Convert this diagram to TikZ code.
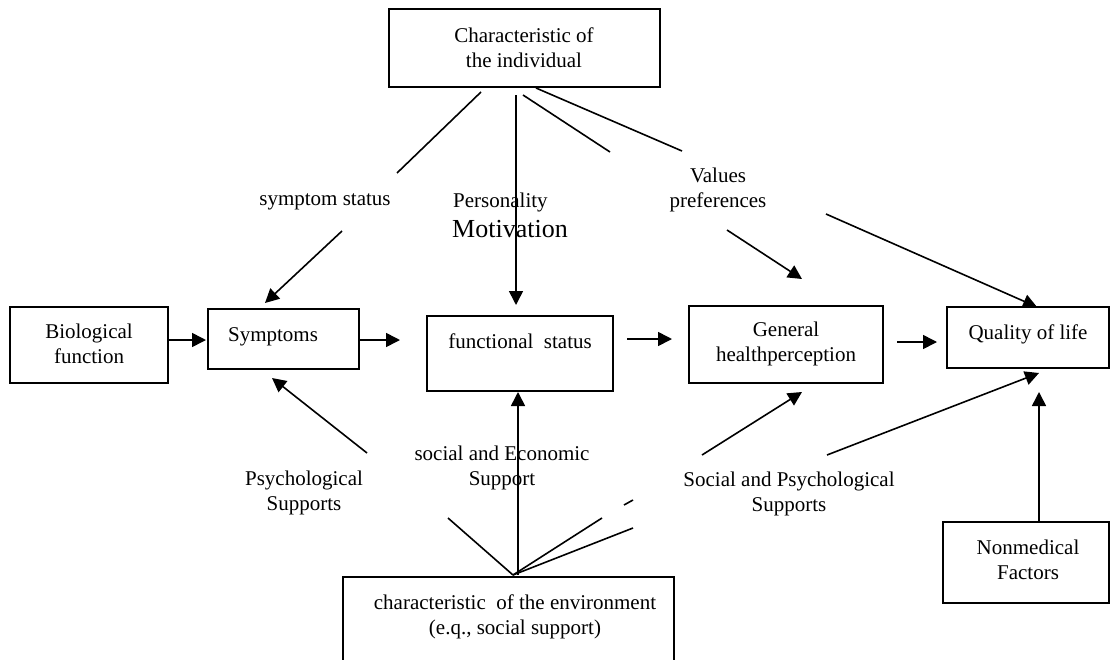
\documentclass[tikz,border=0pt]{standalone}
\usepackage{fontspec}
\setmainfont{Liberation Serif}
\usetikzlibrary{arrows.meta}
\begin{document}
\begin{tikzpicture}[x=1pt,y=-1pt,
  box/.style={draw,line width=1.8pt,inner sep=0pt},
  txt/.style={inner sep=0pt,align=center,font=\fontsize{21}{25}\selectfont},
  big/.style={inner sep=0pt,font=\fontsize{26}{30}\selectfont},
  conn/.style={line width=1.6pt},
  arr/.style={conn,-{Triangle[length=14pt,width=14pt]}}]
\useasboundingbox (0,0) rectangle (1111,659);
\clip (0,0) rectangle (1111,659);
\fill[white] (0,0) rectangle (1111,659);
% boxes
\node[box,minimum width=271pt,minimum height=78pt] (ind) at (524.5,48) {};
\node[box,minimum width=158pt,minimum height=76pt] (bio) at (89,345) {};
\node[box,minimum width=151pt,minimum height=60pt] (sym) at (283.5,339) {};
\node[box,minimum width=186pt,minimum height=75pt] (func) at (520,353.5) {};
\node[box,minimum width=194pt,minimum height=77pt] (gen) at (786,344.5) {};
\node[box,minimum width=162pt,minimum height=61pt] (qol) at (1028,337.5) {};
\node[box,minimum width=166pt,minimum height=81pt] (non) at (1026,562.5) {};
\node[box,minimum width=331pt,minimum height=123pt] (env) at (508.5,638.5) {};
% box texts
\node[txt] (tind) at (524,48) {Characteristic of\\the individual};
\node[txt] (tbio) at (89,344) {Biological\\function};
\node[txt] (tsym) at (273,337) {Symptoms};
\node[txt] (tfunc) at (520,341) {functional\ \ status};
\node[txt] (tgen) at (786,344) {General\\healthperception};
\node[txt] (tqol) at (1028,334) {Quality of life};
\node[txt] (tnon) at (1028,560) {Nonmedical\\Factors};
\node[txt] (tenv) at (515,617) {characteristic\ \ of the environment\\(e.q., social support)};
% labels
\node[txt] (lss) at (325,202) {symptom status};
\node[txt,anchor=west] (lpers) at (453,202) {Personality};
\node[big,anchor=west] (lmot) at (452,229) {Motivation};
\node[txt] (lval) at (718,190) {Values\\preferences};
\node[txt] (lpsy) at (304,493) {Psychological\\Supports};
\node[txt] (lsoc) at (502,468) {social and Economic\\Support};
\node[txt] (lsps) at (789,494) {Social and Psychological\\Supports};
% coordinates
\coordinate (i1) at (481,92);  \coordinate (i1e) at (397,173);
\coordinate (s1) at (342,231); \coordinate (s1e) at (265,303);
\coordinate (i2) at (516,95);  \coordinate (i2e) at (516,305);
\coordinate (i3) at (523,95);  \coordinate (i3e) at (610,152);
\coordinate (i4) at (536,88);  \coordinate (i4e) at (682,151);
\coordinate (v1) at (727,230); \coordinate (v1e) at (802,279);
\coordinate (v2) at (826,214); \coordinate (v2e) at (1037,307);
\coordinate (b1) at (168,340); \coordinate (b1e) at (206,340);
\coordinate (y1) at (359,340); \coordinate (y1e) at (400,340);
\coordinate (f1) at (627,339); \coordinate (f1e) at (672,339);
\coordinate (g1) at (897,342); \coordinate (g1e) at (937,342);
\coordinate (p1) at (367,453); \coordinate (p1e) at (272,378);
\coordinate (e0) at (513,575);
\coordinate (eA) at (448,518);
\coordinate (eB) at (602,518);
\coordinate (eC) at (633,528);
\coordinate (eD) at (624,505); \coordinate (eDe) at (633,500);
\coordinate (ev) at (518,575); \coordinate (eve) at (518,392);
\coordinate (q1) at (702,455); \coordinate (q1e) at (802,392);
\coordinate (q2) at (827,455); \coordinate (q2e) at (1039,373);
\coordinate (n1) at (1039,522); \coordinate (n1e) at (1039,392);
% connectors
\draw[conn] (i1) -- (i1e);
\draw[arr] (s1) -- (s1e);
\draw[arr] (i2) -- (i2e);
\draw[conn] (i3) -- (i3e);
\draw[conn] (i4) -- (i4e);
\draw[arr] (v1) -- (v1e);
\draw[arr] (v2) -- (v2e);
\draw[arr] (b1) -- (b1e);
\draw[arr] (y1) -- (y1e);
\draw[arr] (f1) -- (f1e);
\draw[arr] (g1) -- (g1e);
\draw[arr] (p1) -- (p1e);
\draw[conn] (e0) -- (eA);
\draw[conn] (e0) -- (eB);
\draw[conn] (e0) -- (eC);
\draw[conn] (eD) -- (eDe);
\draw[arr] (ev) -- (eve);
\draw[arr] (q1) -- (q1e);
\draw[arr] (q2) -- (q2e);
\draw[arr] (n1) -- (n1e);
\end{tikzpicture}
\end{document}
